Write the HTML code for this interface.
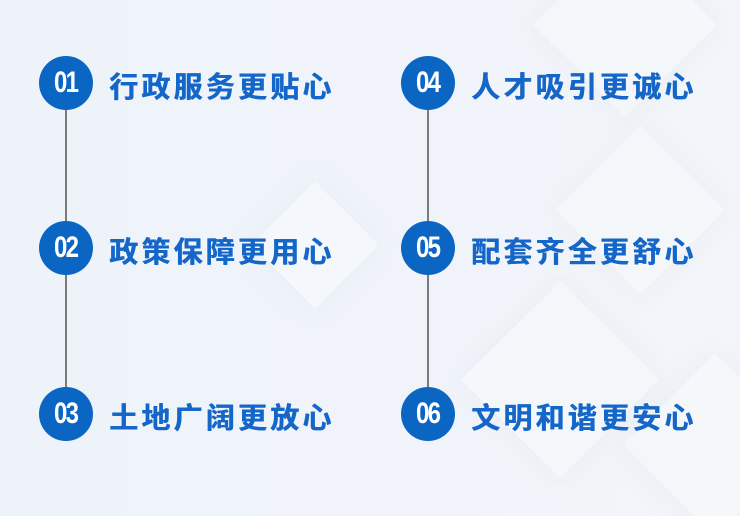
<!DOCTYPE html>
<html><head><meta charset="utf-8"><style>
html,body{margin:0;width:740px;height:516px;overflow:hidden}
body{background:linear-gradient(90deg,#eef3fa 0%,#f0f4fa 50%,#f2f5f9 100%);position:relative;font-family:"Liberation Sans","Noto Sans CJK SC",sans-serif}
.d{position:absolute;transform:rotate(45deg);background:rgba(255,255,255,0.25);box-shadow:0 0 25px rgba(210,218,230,0.25)}
.c{position:absolute;width:54px;height:54px;border-radius:50%;background:#0a66c2;color:#fff;text-align:center}
.c span{display:inline-block;font-family:"Liberation Sans",sans-serif;font-weight:bold;font-size:30px;line-height:54px;letter-spacing:-2px;transform:scaleX(0.8)}
.t{position:absolute;font-size:29px;font-weight:bold;color:#1466c9;letter-spacing:3.2px;line-height:36px;white-space:nowrap;text-shadow:0.6px 0 0 #1466c9}
.l{position:absolute;width:2px;background:#7a7a7a}
</style></head><body>
<div class="d" style="left:560px;top:-40px;width:130px;height:130px"></div>
<div class="d" style="left:270px;top:200px;width:90px;height:90px"></div>
<div class="d" style="left:580px;top:150px;width:120px;height:120px"></div>
<div class="d" style="left:490px;top:310px;width:140px;height:140px"></div>
<div class="d" style="left:650px;top:380px;width:130px;height:130px"></div>
<div class="l" style="left:65px;top:110px;height:112px"></div>
<div class="l" style="left:65px;top:275px;height:112px"></div>
<div class="l" style="left:427px;top:110px;height:112px"></div>
<div class="l" style="left:427px;top:275px;height:112px"></div>
<div class="c" style="left:39px;top:56px"><span>01</span></div>
<div class="c" style="left:39px;top:221px"><span>02</span></div>
<div class="c" style="left:39px;top:387px"><span>03</span></div>
<div class="c" style="left:401px;top:56px"><span>04</span></div>
<div class="c" style="left:401px;top:221px"><span>05</span></div>
<div class="c" style="left:401px;top:387px"><span>06</span></div>
<div class="t" style="left:109px;top:70px">行政服务更贴心</div>
<div class="t" style="left:109px;top:235px">政策保障更用心</div>
<div class="t" style="left:109px;top:401px">土地广阔更放心</div>
<div class="t" style="left:471px;top:70px">人才吸引更诚心</div>
<div class="t" style="left:471px;top:235px">配套齐全更舒心</div>
<div class="t" style="left:471px;top:401px">文明和谐更安心</div>
</body></html>
